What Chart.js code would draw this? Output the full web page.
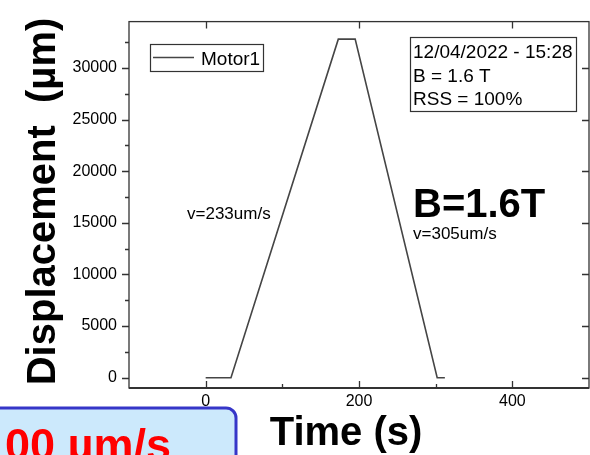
<!DOCTYPE html>
<html>
<head>
<meta charset="utf-8">
<script src="https://cdn.jsdelivr.net/npm/chart.js@4.4.0/dist/chart.umd.min.js"></script>
<style>
  html, body { margin: 0; padding: 0; background: #fff; }
  #wrap { width: 590px; height: 455px; position: relative; }
</style>
</head>
<body>
<div id="wrap"><canvas id="motorChart" width="590" height="455"></canvas></div>
<script>
// Motor1 displacement vs time (vertices of the trace)
const times = [0, 33, 173, 195, 302, 312];
const displacement = [0, 0, 32800, 32800, 0, 0];
const xTickValues = [0, 200, 400];
const xMinorValues = [100, 300];
const yTickValues = [0, 5000, 10000, 15000, 20000, 25000, 30000];
const yMinorValues = [2500, 7500, 12500, 17500, 22500, 27500, 32500];
const infoLines = ['12/04/2022 - 15:28', 'B = 1.6 T', 'RSS = 100%'];
const riseLabel = 'v=233um/s';
const fallLabel = 'v=305um/s';
const fieldLabel = 'B=1.6T';
const speedBoxLabel = '00 µm/s';

const lineColor = '#454545';
const axisColor = '#333333';

// frame, ticks, titles and annotations
const decorPlugin = {
    id: 'decor',
    afterDatasetsDraw(chart) {
        const ctx = chart.ctx;
        const a = chart.chartArea;
        const xs = chart.scales.x;
        const ys = chart.scales.y;
        ctx.save();

        // box
        ctx.strokeStyle = axisColor;
        ctx.lineWidth = 1.3;
        ctx.strokeRect(a.left, a.top, a.right - a.left, a.bottom - a.top);
        ctx.lineWidth = 2.2;
        ctx.beginPath();
        ctx.moveTo(a.left, a.bottom);
        ctx.lineTo(a.right, a.bottom);
        ctx.stroke();

        // ticks
        ctx.lineWidth = 1.3;
        ctx.beginPath();
        yTickValues.forEach(v => {
            const y = Math.round(ys.getPixelForValue(v)) + 0.5;
            ctx.moveTo(a.left - 7, y); ctx.lineTo(a.left, y);
            ctx.moveTo(a.right - 7, y); ctx.lineTo(a.right, y);
        });
        yMinorValues.forEach(v => {
            const y = Math.round(ys.getPixelForValue(v)) + 0.5;
            ctx.moveTo(a.left - 4, y); ctx.lineTo(a.left, y);
        });
        xTickValues.forEach(v => {
            const x = Math.round(xs.getPixelForValue(v)) + 0.5;
            ctx.moveTo(x, a.bottom); ctx.lineTo(x, a.bottom - 7);
            ctx.moveTo(x, a.top); ctx.lineTo(x, a.top + 7);
        });
        xMinorValues.forEach(v => {
            const x = Math.round(xs.getPixelForValue(v)) + 0.5;
            ctx.moveTo(x, a.bottom); ctx.lineTo(x, a.bottom - 4);
        });
        ctx.stroke();

        // legend
        const ds = chart.data.datasets[0];
        ctx.strokeStyle = '#333';
        ctx.lineWidth = 1.2;
        ctx.strokeRect(150.5, 44.5, 113, 27);
        ctx.strokeStyle = ds.borderColor;
        ctx.lineWidth = 1.6;
        ctx.beginPath();
        ctx.moveTo(153, 57.5); ctx.lineTo(194, 57.5);
        ctx.stroke();
        ctx.fillStyle = '#000';
        ctx.font = '19px Arial, "Liberation Sans", sans-serif';
        ctx.textBaseline = 'alphabetic';
        ctx.textAlign = 'left';
        ctx.fillText(ds.label, 201, 65);

        // info box
        ctx.strokeStyle = '#333';
        ctx.lineWidth = 1.2;
        ctx.strokeRect(410.5, 37.5, 166, 74);
        infoLines.forEach((t, i) => ctx.fillText(t, 413, 58 + i * 23.5));

        // speed annotations
        ctx.font = '17px Arial, "Liberation Sans", sans-serif';
        ctx.fillText(riseLabel, 187, 219);
        ctx.fillText(fallLabel, 413, 239);
        ctx.font = 'bold 40px Arial, "Liberation Sans", sans-serif';
        ctx.fillText(fieldLabel, 413, 217);

        // axis titles
        ctx.font = 'bold 40px Arial, "Liberation Sans", sans-serif';
        ctx.textAlign = 'center';
        ctx.fillText('Time (s)', 346, 445);
        ctx.save();
        ctx.translate(55, 201.5);
        ctx.rotate(-Math.PI / 2);
        ctx.fillText('Displacement  (µm)', 0, 0);
        ctx.restore();

        // bottom-left speed box
        ctx.fillStyle = '#cce9fc';
        ctx.strokeStyle = '#3636c8';
        ctx.lineWidth = 3;
        ctx.beginPath();
        ctx.roundRect(-20, 408, 256, 70, 10);
        ctx.fill();
        ctx.stroke();
        ctx.fillStyle = '#ff0000';
        ctx.textAlign = 'left';
        ctx.font = 'bold 45px Arial, "Liberation Sans", sans-serif';
        ctx.fillText(speedBoxLabel, 5, 460);

        ctx.restore();
    }
};

const ctxEl = document.getElementById('motorChart');
new Chart(ctxEl, {
    type: 'line',
    data: {
        labels: times,
        datasets: [{
            label: 'Motor1',
            data: times.map((t, i) => ({ x: t, y: displacement[i] })),
            borderColor: lineColor,
            borderWidth: 1.6,
            pointRadius: 0,
            tension: 0,
            fill: false
        }]
    },
    options: {
        responsive: false,
        animation: false,
        devicePixelRatio: 1,
        layout: { padding: { top: 18, right: 1, left: 0, bottom: 0 } },
        plugins: {
            legend: { display: false },
            tooltip: { enabled: false }
        },
        scales: {
            x: {
                type: 'linear',
                min: -100,
                max: 500,
                grid: { display: false, drawTicks: false },
                border: { display: false },
                afterBuildTicks: s => { s.ticks = xTickValues.map(v => ({ value: v })); },
                afterFit: s => { s.height = 67; },
                ticks: {
                    color: '#000',
                    padding: 4,
                    maxRotation: 0,
                    callback: v => String(v),
                    font: { family: 'Arial, "Liberation Sans", sans-serif', size: 16 }
                }
            },
            y: {
                type: 'linear',
                min: -1000,
                max: 34500,
                grid: { display: false, drawTicks: false },
                border: { display: false },
                afterBuildTicks: s => { s.ticks = yTickValues.map(v => ({ value: v })); },
                afterFit: s => { s.width = 129; },
                ticks: {
                    color: '#000',
                    padding: 12,
                    callback: v => String(v),
                    font: { family: 'Arial, "Liberation Sans", sans-serif', size: 16 }
                }
            }
        }
    },
    plugins: [decorPlugin]
});
</script>
</body>
</html>
